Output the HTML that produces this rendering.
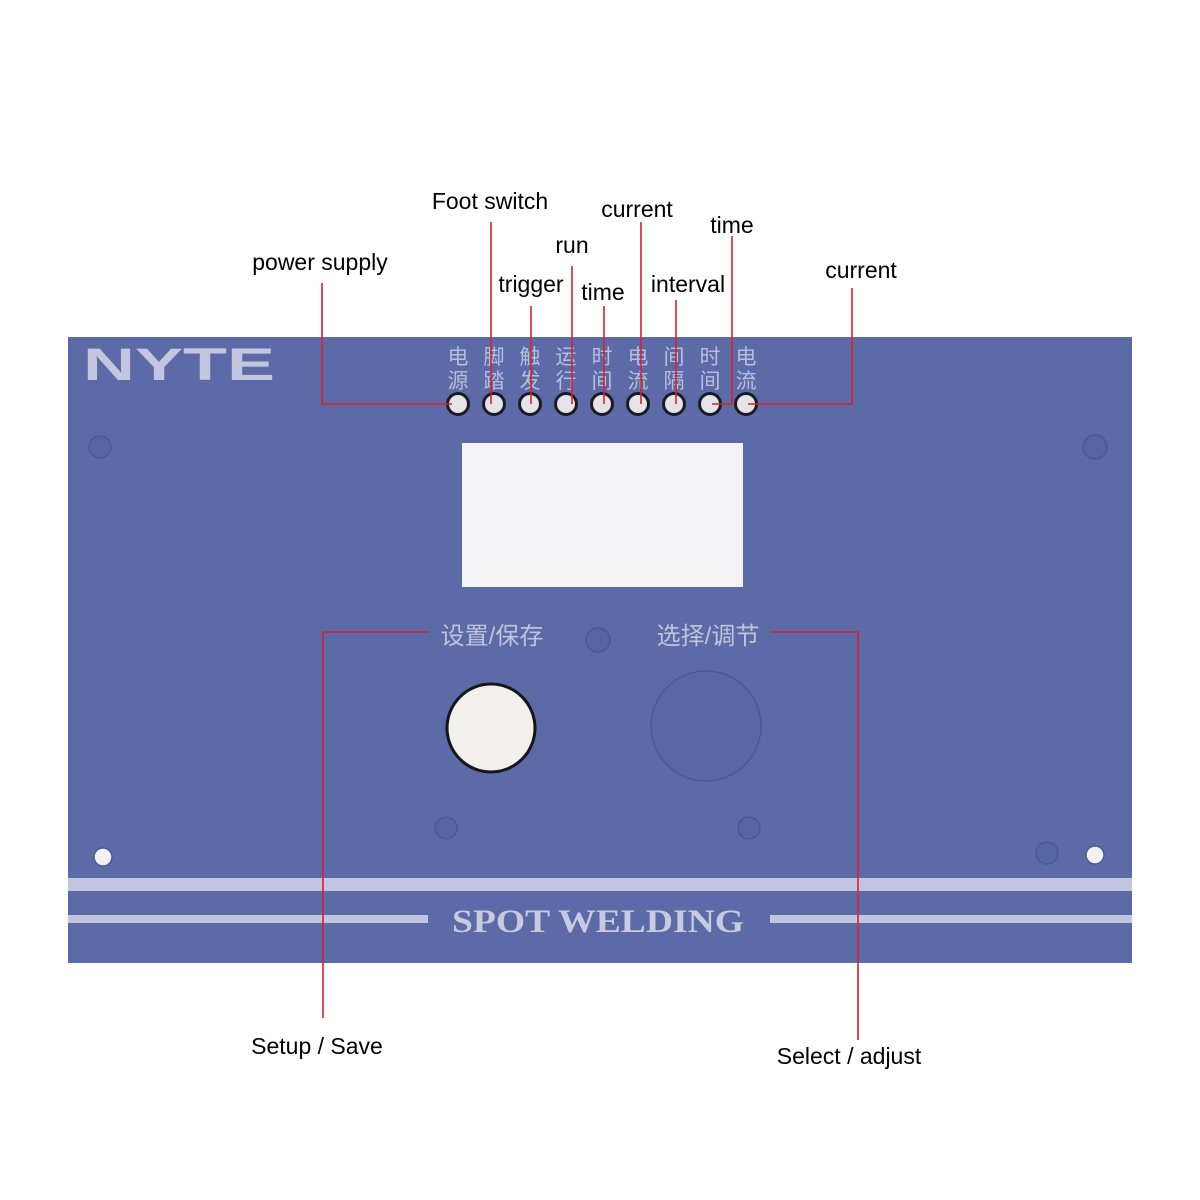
<!DOCTYPE html>
<html><head><meta charset="utf-8"><style>
html,body{margin:0;padding:0;background:#fff;}
svg{display:block;}
.lbl{font-family:"Liberation Sans",Arial,sans-serif;font-size:23px;fill:#000;text-anchor:middle;}
.cn{font-family:"Liberation Sans","Noto Sans CJK SC",sans-serif;font-size:21px;fill:#b9bdda;text-anchor:middle;}
.rl{stroke:#d9202c;stroke-width:1.6;fill:none;}
</style></head><body>
<svg width="1200" height="1200" viewBox="0 0 1200 1200" xmlns="http://www.w3.org/2000/svg">
<rect x="0" y="0" width="1200" height="1200" fill="#fff"/>
<rect x="68" y="337" width="1064" height="626" fill="#5c6ba7"/>
<text x="83" y="380" font-family="Liberation Sans,Arial,sans-serif" font-weight="bold" font-size="45" fill="#c3c6de" textLength="192" lengthAdjust="spacingAndGlyphs">NYTE</text>
<g class="cn">
<text x="458" y="364">电</text><text x="458" y="388">源</text>
<text x="494" y="364">脚</text><text x="494" y="388">踏</text>
<text x="530" y="364">触</text><text x="530" y="388">发</text>
<text x="566" y="364">运</text><text x="566" y="388">行</text>
<text x="602" y="364">时</text><text x="602" y="388">间</text>
<text x="638" y="364">电</text><text x="638" y="388">流</text>
<text x="674" y="364">间</text><text x="674" y="388">隔</text>
<text x="710" y="364">时</text><text x="710" y="388">间</text>
<text x="746" y="364">电</text><text x="746" y="388">流</text>
</g>
<g fill="#e4e4ea" stroke="#1b1b22" stroke-width="3">
<circle cx="458" cy="404" r="10.5"/><circle cx="494" cy="404" r="10.5"/><circle cx="530" cy="404" r="10.5"/>
<circle cx="566" cy="404" r="10.5"/><circle cx="602" cy="404" r="10.5"/><circle cx="638" cy="404" r="10.5"/>
<circle cx="674" cy="404" r="10.5"/><circle cx="710" cy="404" r="10.5"/><circle cx="746" cy="404" r="10.5"/>
</g>
<rect x="462" y="443" width="281" height="144" fill="#f3f3f6"/>
<g fill="#5565a3" stroke="#4a5994" stroke-width="1.5">
<circle cx="100" cy="447" r="11"/><circle cx="1095" cy="447" r="12"/>
<circle cx="598" cy="640" r="12"/><circle cx="446" cy="828" r="11"/>
<circle cx="749" cy="828" r="11"/><circle cx="1047" cy="853" r="11"/>
</g>
<circle cx="103" cy="857" r="9" fill="#f2f2f4" stroke="#4a5994" stroke-width="1.5"/>
<circle cx="1095" cy="855" r="9" fill="#f2f2f4" stroke="#4a5994" stroke-width="1.5"/>
<circle cx="491" cy="728" r="44" fill="#f1f0ec" stroke="#15151a" stroke-width="3"/>
<circle cx="706" cy="726" r="55" fill="#5a69a6" stroke="#4b5a97" stroke-width="1.5"/>
<text x="492" y="644" font-family="Liberation Sans,'Noto Sans CJK SC',sans-serif" font-size="24" fill="#c0c3dd" text-anchor="middle">设置/保存</text>
<text x="708" y="644" font-family="Liberation Sans,'Noto Sans CJK SC',sans-serif" font-size="24" fill="#c0c3dd" text-anchor="middle">选择/调节</text>
<rect x="68" y="878" width="1064" height="13" fill="#c3c5e0"/>
<rect x="68" y="915" width="360" height="8" fill="#c3c5e0"/>
<rect x="770" y="915" width="362" height="8" fill="#c3c5e0"/>
<text x="598" y="932" font-family="Liberation Serif,serif" font-weight="bold" font-size="33" fill="#c8cae2" text-anchor="middle" textLength="292" lengthAdjust="spacingAndGlyphs">SPOT WELDING</text>
<polyline class="rl" points="322,283 322,404 452,404"/>
<line class="rl" x1="491" y1="222" x2="491" y2="404"/>
<line class="rl" x1="531" y1="306" x2="531" y2="404"/>
<line class="rl" x1="572" y1="266" x2="572" y2="404"/>
<line class="rl" x1="604" y1="306" x2="604" y2="404"/>
<line class="rl" x1="641" y1="222" x2="641" y2="404"/>
<line class="rl" x1="676" y1="300" x2="676" y2="404"/>
<polyline class="rl" points="732,236 732,404 712,404"/>
<polyline class="rl" points="852,288 852,404 748,404"/>
<polyline class="rl" points="430,632 323,632 323,1018"/>
<polyline class="rl" points="770,632 858,632 858,1040"/>
<text class="lbl" x="320" y="270">power supply</text>
<text class="lbl" x="490" y="209">Foot switch</text>
<text class="lbl" x="531" y="292">trigger</text>
<text class="lbl" x="572" y="253">run</text>
<text class="lbl" x="603" y="300">time</text>
<text class="lbl" x="637" y="217">current</text>
<text class="lbl" x="688" y="292">interval</text>
<text class="lbl" x="732" y="233">time</text>
<text class="lbl" x="861" y="278">current</text>
<text class="lbl" x="317" y="1054">Setup / Save</text>
<text class="lbl" x="849" y="1064">Select / adjust</text>
</svg>
</body></html>
